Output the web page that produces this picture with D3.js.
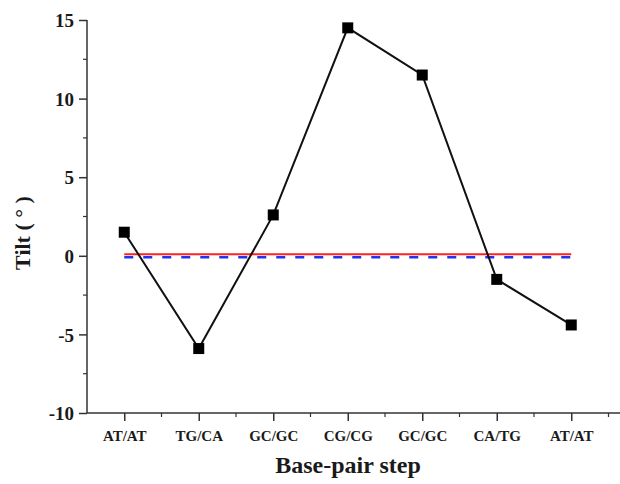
<!DOCTYPE html>
<html>
<head>
<meta charset="utf-8">
<script src="https://cdn.jsdelivr.net/npm/d3@7"></script>
<style>
  body { margin: 0; background: #fff; }
  text { font-family: "Liberation Serif", "Times New Roman", serif; font-weight: bold; fill: #1a1a1a; }
</style>
</head>
<body>
<div id="chart"></div>
<script>
// data
var steps = ["AT/AT", "TG/CA", "GC/GC", "CG/CG", "GC/GC", "CA/TG", "AT/AT"];
var tilt = [1.5, -5.9, 2.6, 14.5, 11.5, -1.5, -4.4];
var refRed = 0.1;     // solid red reference line
var refBlue = -0.1;   // dashed blue reference line
var yTicks = [-10, -5, 0, 5, 10, 15];
var yMinor = [-7.5, -2.5, 2.5, 7.5, 12.5];

var width = 620, height = 484;
var svg = d3.select("#chart").append("svg")
  .attr("width", width)
  .attr("height", height);

// index scale, -0.5 .. 6.5 so the labels sit between minor ticks
var x = d3.scaleLinear().domain([-0.5, 6.5]).range([87, 608.5]);
var y = d3.scaleLinear().domain([-10, 15]).range([413, 20]);

// y axis
var yAxis = d3.axisLeft(y).tickValues(yTicks).tickSize(8).tickPadding(5)
  .tickFormat(function(d) { return String(d); }); // plain hyphen minus like the original
var gy = svg.append("g").attr("transform", "translate(87,0)").call(yAxis);
gy.select(".domain").attr("stroke", "#333").attr("stroke-width", 1.5).attr("d", "M0," + y(15) + "V" + y(-10));
gy.selectAll(".tick line").attr("stroke", "#333").attr("stroke-width", 1.5);
gy.selectAll(".tick text").style("font-size", "19px").attr("dy", "0.35em");
gy.selectAll(".minor").data(yMinor).enter().append("line")
  .attr("class", "minor")
  .attr("x1", -4).attr("x2", 0)
  .attr("y1", function(d) { return y(d); })
  .attr("y2", function(d) { return y(d); })
  .attr("stroke", "#333").attr("stroke-width", 1.2);

// x axis
var xAxis = d3.axisBottom(x).tickValues(d3.range(steps.length)).tickSize(8).tickPadding(9)
  .tickFormat(function(i) { return steps[i]; });
var gx = svg.append("g").attr("transform", "translate(0,413)").call(xAxis);
gx.select(".domain").attr("stroke", "#333").attr("stroke-width", 1.5).attr("d", "M87,0H620");
gx.selectAll(".tick line").attr("stroke", "#333").attr("stroke-width", 1.5);
gx.selectAll(".tick text").style("font-size", "15px");
gx.selectAll(".minor").data(d3.range(steps.length).map(function(i) { return i + 0.5; })).enter().append("line")
  .attr("class", "minor")
  .attr("x1", function(d) { return x(d); })
  .attr("x2", function(d) { return x(d); })
  .attr("y1", 0).attr("y2", 4)
  .attr("stroke", "#333").attr("stroke-width", 1.2);

// reference lines
svg.append("line")
  .attr("x1", x(0)).attr("x2", x(6))
  .attr("y1", y(refRed)).attr("y2", y(refRed))
  .attr("stroke", "#f22").attr("stroke-width", 2);
svg.append("line")
  .attr("x1", x(0)).attr("x2", x(6))
  .attr("y1", y(refBlue)).attr("y2", y(refBlue))
  .attr("stroke", "#2233ee").attr("stroke-width", 2.5)
  .attr("stroke-dasharray", "9,10");

// tilt series
var line = d3.line()
  .x(function(d, i) { return x(i); })
  .y(function(d) { return y(d); });
svg.append("path").datum(tilt)
  .attr("d", line)
  .attr("fill", "none")
  .attr("stroke", "#111")
  .attr("stroke-width", 2);

var ms = 11;
svg.selectAll(".pt").data(tilt).enter().append("rect")
  .attr("class", "pt")
  .attr("x", function(d, i) { return x(i) - ms / 2; })
  .attr("y", function(d) { return y(d) - ms / 2; })
  .attr("width", ms).attr("height", ms)
  .attr("fill", "#000");

// axis titles
svg.append("text")
  .attr("x", 348).attr("y", 473)
  .attr("text-anchor", "middle")
  .style("font-size", "24px")
  .text("Base-pair step");
svg.append("text")
  .attr("transform", "translate(30,233) rotate(-90)")
  .attr("text-anchor", "middle")
  .style("font-size", "22px")
  .text("Tilt ( ° )");
</script>
</body>
</html>
